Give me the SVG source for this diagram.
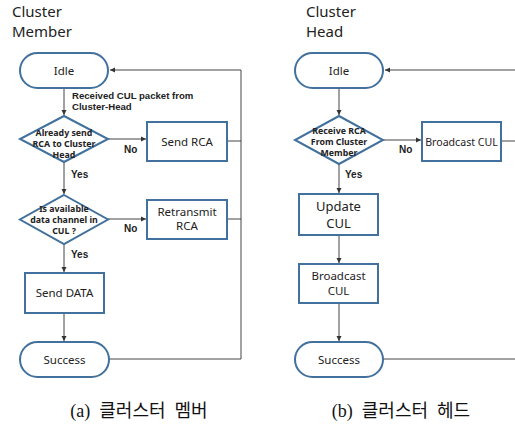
<svg xmlns="http://www.w3.org/2000/svg" width="515" height="425" viewBox="0 0 515 425">
<defs>
<marker id="arr" markerWidth="6" markerHeight="6" refX="5" refY="3" orient="auto" markerUnits="userSpaceOnUse">
<path d="M0,0.5 L5,3 L0,5.5 Z" fill="#333"/>
</marker>
<style>
.sh{fill:#fff;stroke:#41719C;stroke-width:2}
.cn{fill:none;stroke:#444;stroke-width:1}
.t{font-family:"Noto Sans","Liberation Sans",sans-serif;fill:#222;text-anchor:middle}
.n{font-size:11.5px}
.d{font-size:8.8px;font-weight:bold}
.lb{font-family:"Liberation Sans","Noto Sans",sans-serif;font-size:10px;font-weight:bold;fill:#222}
.ti{font-family:"Noto Sans","Liberation Sans",sans-serif;font-size:15px;fill:#222}
.cap{font-family:"Liberation Serif","Noto Sans CJK KR",serif;font-size:18px;fill:#111;text-anchor:middle}
</style>
</defs>
<rect width="515" height="425" fill="#fff"/>
<text class="ti" x="12" y="17">Cluster</text>
<text class="ti" x="12" y="37">Member</text>
<text class="ti" x="306" y="17">Cluster</text>
<text class="ti" x="306" y="37">Head</text>
<g id="connectors">
<line class="cn" x1="64" y1="88" x2="64" y2="115" marker-end="url(#arr)"/>
<line class="cn" x1="108" y1="139" x2="146" y2="139" marker-end="url(#arr)"/>
<line class="cn" x1="64" y1="162" x2="64" y2="194" marker-end="url(#arr)"/>
<line class="cn" x1="108" y1="219" x2="146" y2="219" marker-end="url(#arr)"/>
<line class="cn" x1="64" y1="244" x2="64" y2="272" marker-end="url(#arr)"/>
<line class="cn" x1="64" y1="313" x2="64" y2="341" marker-end="url(#arr)"/>
<line class="cn" x1="227" y1="141" x2="241" y2="141"/>
<line class="cn" x1="227" y1="219" x2="241" y2="219"/>
<polyline class="cn" points="109,359 241,359 241,70 110,70" marker-end="url(#arr)"/>
<line class="cn" x1="339" y1="88" x2="339" y2="115" marker-end="url(#arr)"/>
<line class="cn" x1="383" y1="140" x2="421" y2="140" marker-end="url(#arr)"/>
<line class="cn" x1="339" y1="164" x2="339" y2="193" marker-end="url(#arr)"/>
<line class="cn" x1="339" y1="235" x2="339" y2="263" marker-end="url(#arr)"/>
<line class="cn" x1="339" y1="303" x2="339" y2="341" marker-end="url(#arr)"/>
<line class="cn" x1="501" y1="141" x2="515" y2="141"/>
<line class="cn" x1="383" y1="359" x2="515" y2="359"/>
<line class="cn" x1="515" y1="70" x2="385" y2="70" marker-end="url(#arr)"/>
</g>
<text class="lb" x="72" y="99" style="font-size:9.6px">Received CUL packet from</text>
<text class="lb" x="72" y="110" style="font-size:9.6px">Cluster-Head</text>
<text class="lb" x="124" y="153">No</text>
<text class="lb" x="71" y="178">Yes</text>
<text class="lb" x="124" y="232">No</text>
<text class="lb" x="71" y="258">Yes</text>
<text class="lb" x="399" y="153">No</text>
<text class="lb" x="345" y="178">Yes</text>
<g id="idle-a"><rect class="sh" x="20" y="53" width="88" height="35" rx="17.5"/><text class="t n" x="64" y="74.5">Idle</text></g>
<g id="dec1"><polygon class="sh" points="64,116 108,139 64,162 20,139"/><text class="t d" x="64" y="136">Already send</text><text class="t d" x="64" y="147">RCA to Cluster</text><text class="t d" x="64" y="158">Head</text></g>
<g id="sendrca"><rect class="sh" x="147" y="122" width="80" height="39"/><text class="t n" x="187" y="145.5">Send RCA</text></g>
<g id="dec2"><polygon class="sh" points="64,195 108,219.5 64,244 20,219.5"/><text class="t d" x="64" y="212">Is available</text><text class="t d" x="64" y="223">data channel  in</text><text class="t d" x="64" y="234">CUL ?</text></g>
<g id="retx"><rect class="sh" x="147" y="200" width="80" height="39"/><text class="t n" x="187" y="216">Retransmit</text><text class="t n" x="187" y="230">RCA</text></g>
<g id="senddata"><rect class="sh" x="25" y="273" width="79" height="40"/><text class="t n" x="64.5" y="297">Send DATA</text></g>
<g id="success-a"><rect class="sh" x="20" y="342" width="89" height="35" rx="17.5"/><text class="t n" x="64.5" y="363.5">Success</text></g>
<g id="idle-b"><rect class="sh" x="295" y="53" width="88" height="35" rx="17.5"/><text class="t n" x="339" y="74.5">Idle</text></g>
<g id="dec3"><polygon class="sh" points="339,116 383,140 339,164 295,140"/><text class="t d" x="339" y="134">Receive RCA</text><text class="t d" x="339" y="145">From Cluster</text><text class="t d" x="339" y="156">Member</text></g>
<g id="bcast1"><rect class="sh" x="422" y="122" width="79" height="39"/><text class="t" style="font-size:10.6px" x="461.5" y="145.5">Broadcast CUL</text></g>
<g id="update"><rect class="sh" x="299" y="194" width="79" height="41"/><text class="t" style="font-size:13px" x="338.5" y="210.5">Update</text><text class="t" style="font-size:13px" x="338.5" y="227.5">CUL</text></g>
<g id="bcast2"><rect class="sh" x="299" y="264" width="79" height="39"/><text class="t n" x="338.5" y="280">Broadcast</text><text class="t n" x="338.5" y="295">CUL</text></g>
<g id="success-b"><rect class="sh" x="295" y="342" width="88" height="35" rx="17.5"/><text class="t n" x="339" y="363.5">Success</text></g>
<text class="cap" x="139" y="417" xml:space="preserve">(a)  클러스터  멤버</text>
<text class="cap" x="401" y="417" xml:space="preserve">(b)  클러스터  헤드</text>
</svg>
